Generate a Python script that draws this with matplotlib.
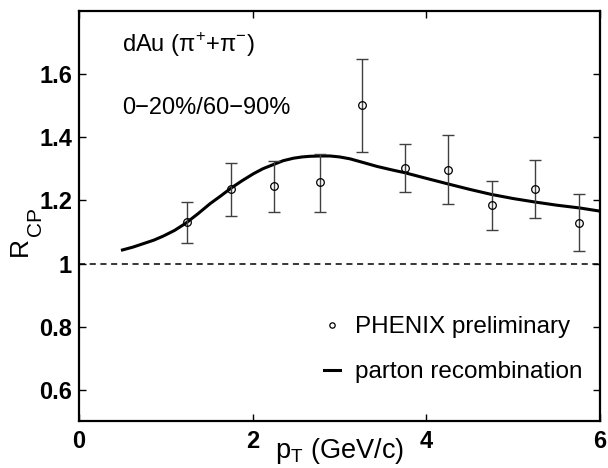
import matplotlib.pyplot as plt

plt.rcParams['font.family'] = ['Liberation Sans', 'DejaVu Sans']
plt.rcParams['mathtext.fontset'] = 'custom'
plt.rcParams['mathtext.rm'] = 'Liberation Sans'

# PHENIX preliminary data points
pt_data = [1.24, 1.75, 2.25, 2.77, 3.26, 3.75, 4.25, 4.75, 5.25, 5.76]
rcp_data = [1.132, 1.237, 1.245, 1.258, 1.502, 1.303, 1.297, 1.184, 1.236, 1.128]
err_hi = [1.196, 1.320, 1.325, 1.347, 1.647, 1.379, 1.407, 1.261, 1.328, 1.219]
err_lo = [1.064, 1.150, 1.164, 1.164, 1.355, 1.226, 1.189, 1.107, 1.143, 1.039]

# parton recombination curve
pt_curve = [0.5, 0.62, 0.74, 0.86, 0.97, 1.1, 1.23, 1.37, 1.51, 1.63, 1.75, 1.88,
            2.01, 2.12, 2.24, 2.35, 2.47, 2.57, 2.66, 2.78, 2.89, 3.0, 3.12, 3.25,
            3.43, 3.6, 3.75, 4.0, 4.24, 4.5, 4.75, 5.0, 5.25, 5.5, 5.77, 6.0]
rcp_curve = [1.043, 1.052, 1.063, 1.074, 1.087, 1.105, 1.128, 1.158, 1.190, 1.214,
             1.239, 1.263, 1.285, 1.301, 1.314, 1.326, 1.334, 1.338, 1.340, 1.341,
             1.341, 1.338, 1.332, 1.322, 1.308, 1.297, 1.288, 1.270, 1.253, 1.235,
             1.219, 1.206, 1.195, 1.185, 1.176, 1.166]

yerr = [[r - lo for r, lo in zip(rcp_data, err_lo)],
        [hi - r for r, hi in zip(rcp_data, err_hi)]]

fig = plt.figure(figsize=(6.08, 4.68), dpi=100)
ax = fig.add_axes([0.13, 0.1, 0.857, 0.876])

ax.axhline(1.0, color='black', linestyle=(0, (4, 3)), linewidth=1.1)
line, = ax.plot(pt_curve, rcp_curve, color='black', linewidth=2.2, label='parton recombination')
ax.errorbar(pt_data, rcp_data, yerr=yerr, fmt='none', ecolor='#404040',
            elinewidth=1.0, capsize=4.5, capthick=1.0)
pts, = ax.plot(pt_data, rcp_data, 'o', mfc='none', mec='black', ms=5.5, mew=0.9,
               linestyle='none', label='PHENIX preliminary')

ax.set_xlim(0, 6)
ax.set_ylim(0.5, 1.8)
ax.set_xticks([0, 2, 4, 6])
ax.set_yticks([0.6, 0.8, 1.0, 1.2, 1.4, 1.6])
ax.set_yticklabels(['0.6', '0.8', '1', '1.2', '1.4', '1.6'])
ax.tick_params(direction='in', top=True, right=True, length=5, width=1,
               labelsize=17, pad=5)
ax.tick_params(axis='x', pad=6)
for lab in ax.get_xticklabels() + ax.get_yticklabels():
    lab.set_fontweight('bold')
for s in ax.spines.values():
    s.set_linewidth(1.6)

ax.set_xlabel(r'p$_\mathregular{T}$ (GeV/c)', fontsize=19.5, labelpad=-12)

# y label: R with a large CP subscript, as in the original
fig.text(20 / 608, 1 - 246 / 468, 'R', rotation=90, fontsize=19, ha='center', va='center')
fig.text(36 / 608, 1 - 221 / 468, 'CP', rotation=90, fontsize=15, ha='center', va='center')

ax.text(0.5, 1.693, 'dAu (\u03c0$^{\\mathregular{+}}$+\u03c0$^{\\mathregular{\u2212}}$)',
        fontsize=17, va='center', ha='left')
ax.text(0.5, 1.493, '0\u221220%/60\u221290%', fontsize=17, va='center', ha='left')

leg = ax.legend(handles=[pts, line], loc='lower right', bbox_to_anchor=(0.966, 0.092),
                frameon=False, fontsize=17.5, handlelength=0.66, handletextpad=0.6,
                labelspacing=0.95, markerscale=0.7, borderaxespad=0, borderpad=0)

fig.savefig('out.png', dpi=100)
